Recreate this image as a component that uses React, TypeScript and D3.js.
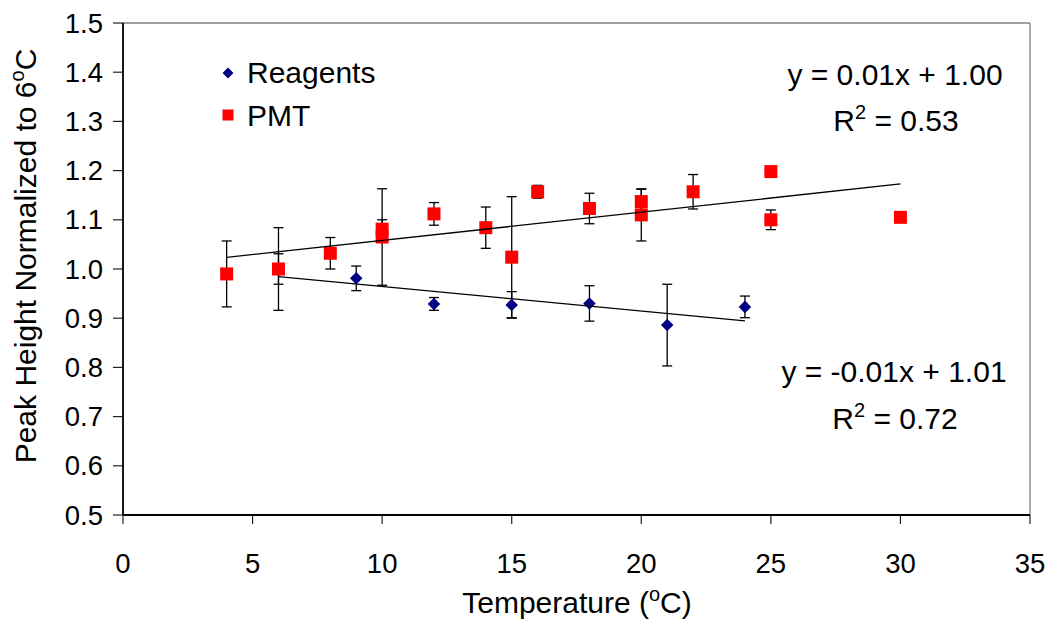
import React from "react";
import * as d3 from "d3";

const xTicks = [0, 5, 10, 15, 20, 25, 30, 35];
const yTicks = [0.5, 0.6, 0.7, 0.8, 0.9, 1.0, 1.1, 1.2, 1.3, 1.4, 1.5];

const reagentsTemp = [6, 9, 12, 15, 18, 21, 24];
const reagentsValue = [1.0, 0.981, 0.929, 0.927, 0.93, 0.886, 0.923];
const reagentsError = [0.031, 0.025, 0.013, 0.027, 0.036, 0.083, 0.022];

const pmtTemp = [4, 6, 8, 10, 10, 12, 14, 15, 16, 18, 20, 20, 22, 25, 25, 30];
const pmtValue = [0.99, 1.0, 1.032, 1.081, 1.065, 1.112, 1.084, 1.024, 1.157, 1.123, 1.137, 1.11, 1.157, 1.198, 1.1, 1.105];
const pmtError = [0.067, 0.084, 0.032, 0.019, 0.098, 0.023, 0.042, 0.123, 0.013, 0.031, 0.025, 0.053, 0.035, 0, 0.02, 0];

const seriesNames = ["Reagents", "PMT"];
const pmtEquation = ["y = 0.01x + 1.00", "0.53"];
const reagentsEquation = ["y = -0.01x + 1.01", "0.72"];

const W = 1050;
const H = 622;
const M = { left: 123, right: 1030, top: 23, bottom: 515 };
const FONT = "'Liberation Sans', Arial, sans-serif";
const FS_TICK = 27.5;
const FS = 30;
const FS_SUP = 20;

function fit(xs: number[], ys: number[]) {
  const mx = d3.mean(xs) as number;
  const my = d3.mean(ys) as number;
  let sxy = 0;
  let sxx = 0;
  xs.forEach((x, i) => {
    sxy += (x - mx) * (ys[i] - my);
    sxx += (x - mx) * (x - mx);
  });
  const b = sxy / sxx;
  return { b, a: my - b * mx };
}

export default function App() {
  const x = d3.scaleLinear().domain([0, 35]).range([M.left, M.right]);
  const y = d3.scaleLinear().domain([0.5, 1.5]).range([M.bottom, M.top]);

  const reagents = reagentsTemp.map((t, i) => ({ t, v: reagentsValue[i], e: reagentsError[i] }));
  const pmt = pmtTemp.map((t, i) => ({ t, v: pmtValue[i], e: pmtError[i] }));

  const rFit = fit(reagentsTemp, reagentsValue);
  const pFit = fit(pmtTemp, pmtValue);
  const rExt = d3.extent(reagentsTemp) as [number, number];
  const pExt = d3.extent(pmtTemp) as [number, number];

  const trend = (f: { a: number; b: number }, ext: [number, number]) =>
    d3
      .line<number>()
      .x((d) => x(d))
      .y((d) => y(f.a + f.b * d))(ext) as string;

  const diamond = d3.symbol().type(d3.symbolDiamond2).size(100)() as string;
  const diamondLegend = d3.symbol().type(d3.symbolDiamond2).size(76)() as string;
  const fmt = d3.format(".1f");

  const errorBar = (d: { t: number; v: number; e: number }, k: string) => {
    if (!d.e) return null;
    const cx = x(d.t);
    const y1 = y(d.v + d.e);
    const y2 = y(d.v - d.e);
    return (
      <g key={k} stroke="#000" strokeWidth={1.3}>
        <line x1={cx} x2={cx} y1={y1} y2={y2} />
        <line x1={cx - 5} x2={cx + 5} y1={y1} y2={y1} />
        <line x1={cx - 5} x2={cx + 5} y1={y2} y2={y2} />
      </g>
    );
  };

  return (
    <svg
      width={W}
      height={H}
      style={{ position: "absolute", left: 0, top: 0, background: "#fff" }}
      fontFamily={FONT}
    >
      <rect x={0} y={0} width={W} height={H} fill="#fff" />
      {/* plot border */}
      <line x1={M.left} x2={M.right} y1={M.top} y2={M.top} stroke="#808080" strokeWidth={1.3} />
      <line x1={M.right} x2={M.right} y1={M.top} y2={M.bottom} stroke="#808080" strokeWidth={1.3} />

      {/* y axis */}
      {yTicks.map((t) => (
        <g key={"y" + t}>
          <line x1={M.left - 10} x2={M.left} y1={y(t)} y2={y(t)} stroke="#222" strokeWidth={1.2} />
          <text
            x={M.left - 20}
            y={y(t)}
            textAnchor="end"
            dominantBaseline="central"
            fontSize={FS_TICK}
            fill="#000"
          >
            {fmt(t)}
          </text>
        </g>
      ))}
      {/* x axis */}
      {xTicks.map((t) => (
        <g key={"x" + t}>
          <line x1={x(t)} x2={x(t)} y1={M.bottom} y2={M.bottom + 9} stroke="#222" strokeWidth={1.2} />
          <text x={x(t)} y={573} textAnchor="middle" fontSize={FS_TICK} fill="#000">
            {t}
          </text>
        </g>
      ))}
      <line x1={M.left} x2={M.left} y1={M.top} y2={M.bottom} stroke="#000" strokeWidth={1.8} />
      <line x1={M.left} x2={M.right} y1={M.bottom} y2={M.bottom} stroke="#000" strokeWidth={1.8} />

      {/* axis titles */}
      <text x={577} y={613} textAnchor="middle" fontSize={FS} fill="#000">
        Temperature (<tspan dy={-12} fontSize={FS_SUP}>o</tspan>
        <tspan dy={12}>C)</tspan>
      </text>
      <text
        transform={`translate(36, 256) rotate(-90)`}
        textAnchor="middle"
        fontSize={FS}
        fill="#000"
      >
        Peak Height Normalized to 6<tspan dy={-12} fontSize={FS_SUP}>o</tspan>
        <tspan dy={12}>C</tspan>
      </text>

      {/* error bars */}
      {reagents.map((d, i) => errorBar(d, "re" + i))}
      {pmt.map((d, i) => errorBar(d, "pe" + i))}

      {/* markers */}
      {reagents.map((d, i) => (
        <path key={"rm" + i} d={diamond} transform={`translate(${x(d.t)},${y(d.v)})`} fill="#000080" />
      ))}
      {pmt.map((d, i) => (
        <rect key={"pm" + i} x={x(d.t) - 6.5} y={y(d.v) - 6.5} width={13} height={13} fill="#ff0000" />
      ))}

      {/* trendlines */}
      <path d={trend(pFit, pExt)} stroke="#000" strokeWidth={1.3} fill="none" />
      <path d={trend(rFit, rExt)} stroke="#000" strokeWidth={1.3} fill="none" />

      {/* legend */}
      <path d={diamondLegend} transform="translate(228,73)" fill="#000080" />
      <text x={247} y={83} fontSize={FS} fill="#000">
        {seriesNames[0]}
      </text>
      <rect x={222.5} y={109.5} width={11} height={11} fill="#ff0000" />
      <text x={247} y={126} fontSize={FS} fill="#000">
        {seriesNames[1]}
      </text>

      {/* equations */}
      <text x={895} y={85} textAnchor="middle" fontSize={FS} fill="#000">
        {pmtEquation[0]}
      </text>
      <text x={896} y={131} textAnchor="middle" fontSize={FS} fill="#000">
        R<tspan dy={-12} fontSize={FS_SUP}>2</tspan>
        <tspan dy={12}> = {pmtEquation[1]}</tspan>
      </text>
      <text x={894} y={382} textAnchor="middle" fontSize={FS} fill="#000">
        {reagentsEquation[0]}
      </text>
      <text x={895} y={429} textAnchor="middle" fontSize={FS} fill="#000">
        R<tspan dy={-12} fontSize={FS_SUP}>2</tspan>
        <tspan dy={12}> = {reagentsEquation[1]}</tspan>
      </text>
    </svg>
  );
}
